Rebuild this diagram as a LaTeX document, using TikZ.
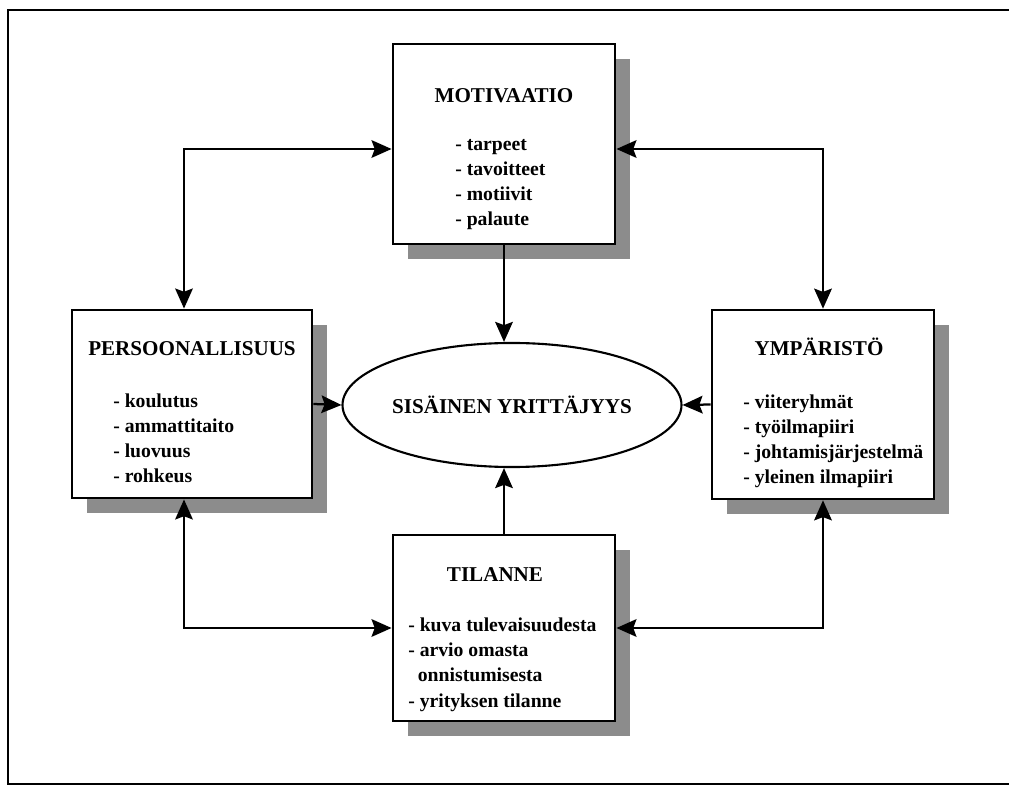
\documentclass[tikz,border=0pt]{standalone}
\usepackage{fontspec}
\setmainfont{Liberation Serif}
\usetikzlibrary{shapes.geometric,shadows,arrows.meta}
\begin{document}
\begin{tikzpicture}[x=0.025cm,y=-0.025cm,
>={Stealth[length=5mm,width=4.4mm,inset=0.8mm]},
box/.style 2 args={draw, line width=2pt, fill=white, minimum width=#1, minimum height=#2, inner sep=0pt,
    drop shadow={shadow xshift=0.375cm, shadow yshift=-0.375cm, fill=black!45, opacity=1}},
head/.style={font=\fontsize{15}{18}\selectfont\bfseries, anchor=base, inner sep=0pt},
items/.style={font=\fontsize{14}{17.9}\selectfont\bfseries, align=left, anchor=base west, inner sep=0pt},
link/.style={line width=1.6pt}]
\useasboundingbox (0,0) rectangle (1009,787);
\draw[line width=1.4pt] (8,10) rectangle (1030,784);
\node[box={5.55cm}{5cm}] (motiv) at (504,144) {};
\node[box={6cm}{4.7cm}] (person) at (192,404) {};
\node[box={5.55cm}{4.72cm}] (ymp) at (823,404.5) {};
\node[box={5.55cm}{4.65cm}] (tilanne) at (504,628) {};
\node[ellipse, draw, line width=1.5pt, minimum width=7.55cm, minimum height=3.1cm, inner sep=0pt,
    font=\fontsize{15}{18}\selectfont\bfseries] (core) at (512,405) {SIS\"AINEN YRITT\"AJYYS};
\node[head] (motiv-head) at (504,103) {MOTIVAATIO};
\node[items] (motiv-list) at (455,226) {- tarpeet\\- tavoitteet\\- motiivit\\- palaute};
\node[head] (person-head) at (192,356) {PERSOONALLISUUS};
\node[items] (person-list) at (113,483) {- koulutus\\- ammattitaito\\- luovuus\\- rohkeus};
\node[head] (ymp-head) at (819,356) {YMP\"ARIST\"O};
\node[items] (ymp-list) at (743,484) {- viiteryhm\"at\\- ty\"oilmapiiri\\- johtamisj\"arjestelm\"a\\- yleinen ilmapiiri};
\node[head] (tilanne-head) at (495,581) {TILANNE};
\node[items] (tilanne-list) at (408,707) {- kuva tulevaisuudesta\\- arvio omasta\\\hspace*{2.4mm}onnistumisesta\\- yrityksen tilanne};
\draw[link,<->] ([yshift=-0.125cm]motiv.west) -| ([xshift=-0.2cm]person.north);
\draw[link,<->] ([yshift=-0.125cm]motiv.east) -| (ymp.north);
\draw[link,<->] ([xshift=-0.2cm]person.south) |- (tilanne.west);
\draw[link,<->] (ymp.south) |- (tilanne.east);
\draw[link,->] (motiv.south) -- (motiv.south |- core.north);
\draw[link,->] (tilanne.north) -- (tilanne.north |- core.south);
\draw[link,->] (person.east) -- (core.west);
\draw[link,->] (ymp.west) -- (core.east);
\end{tikzpicture}
\end{document}
